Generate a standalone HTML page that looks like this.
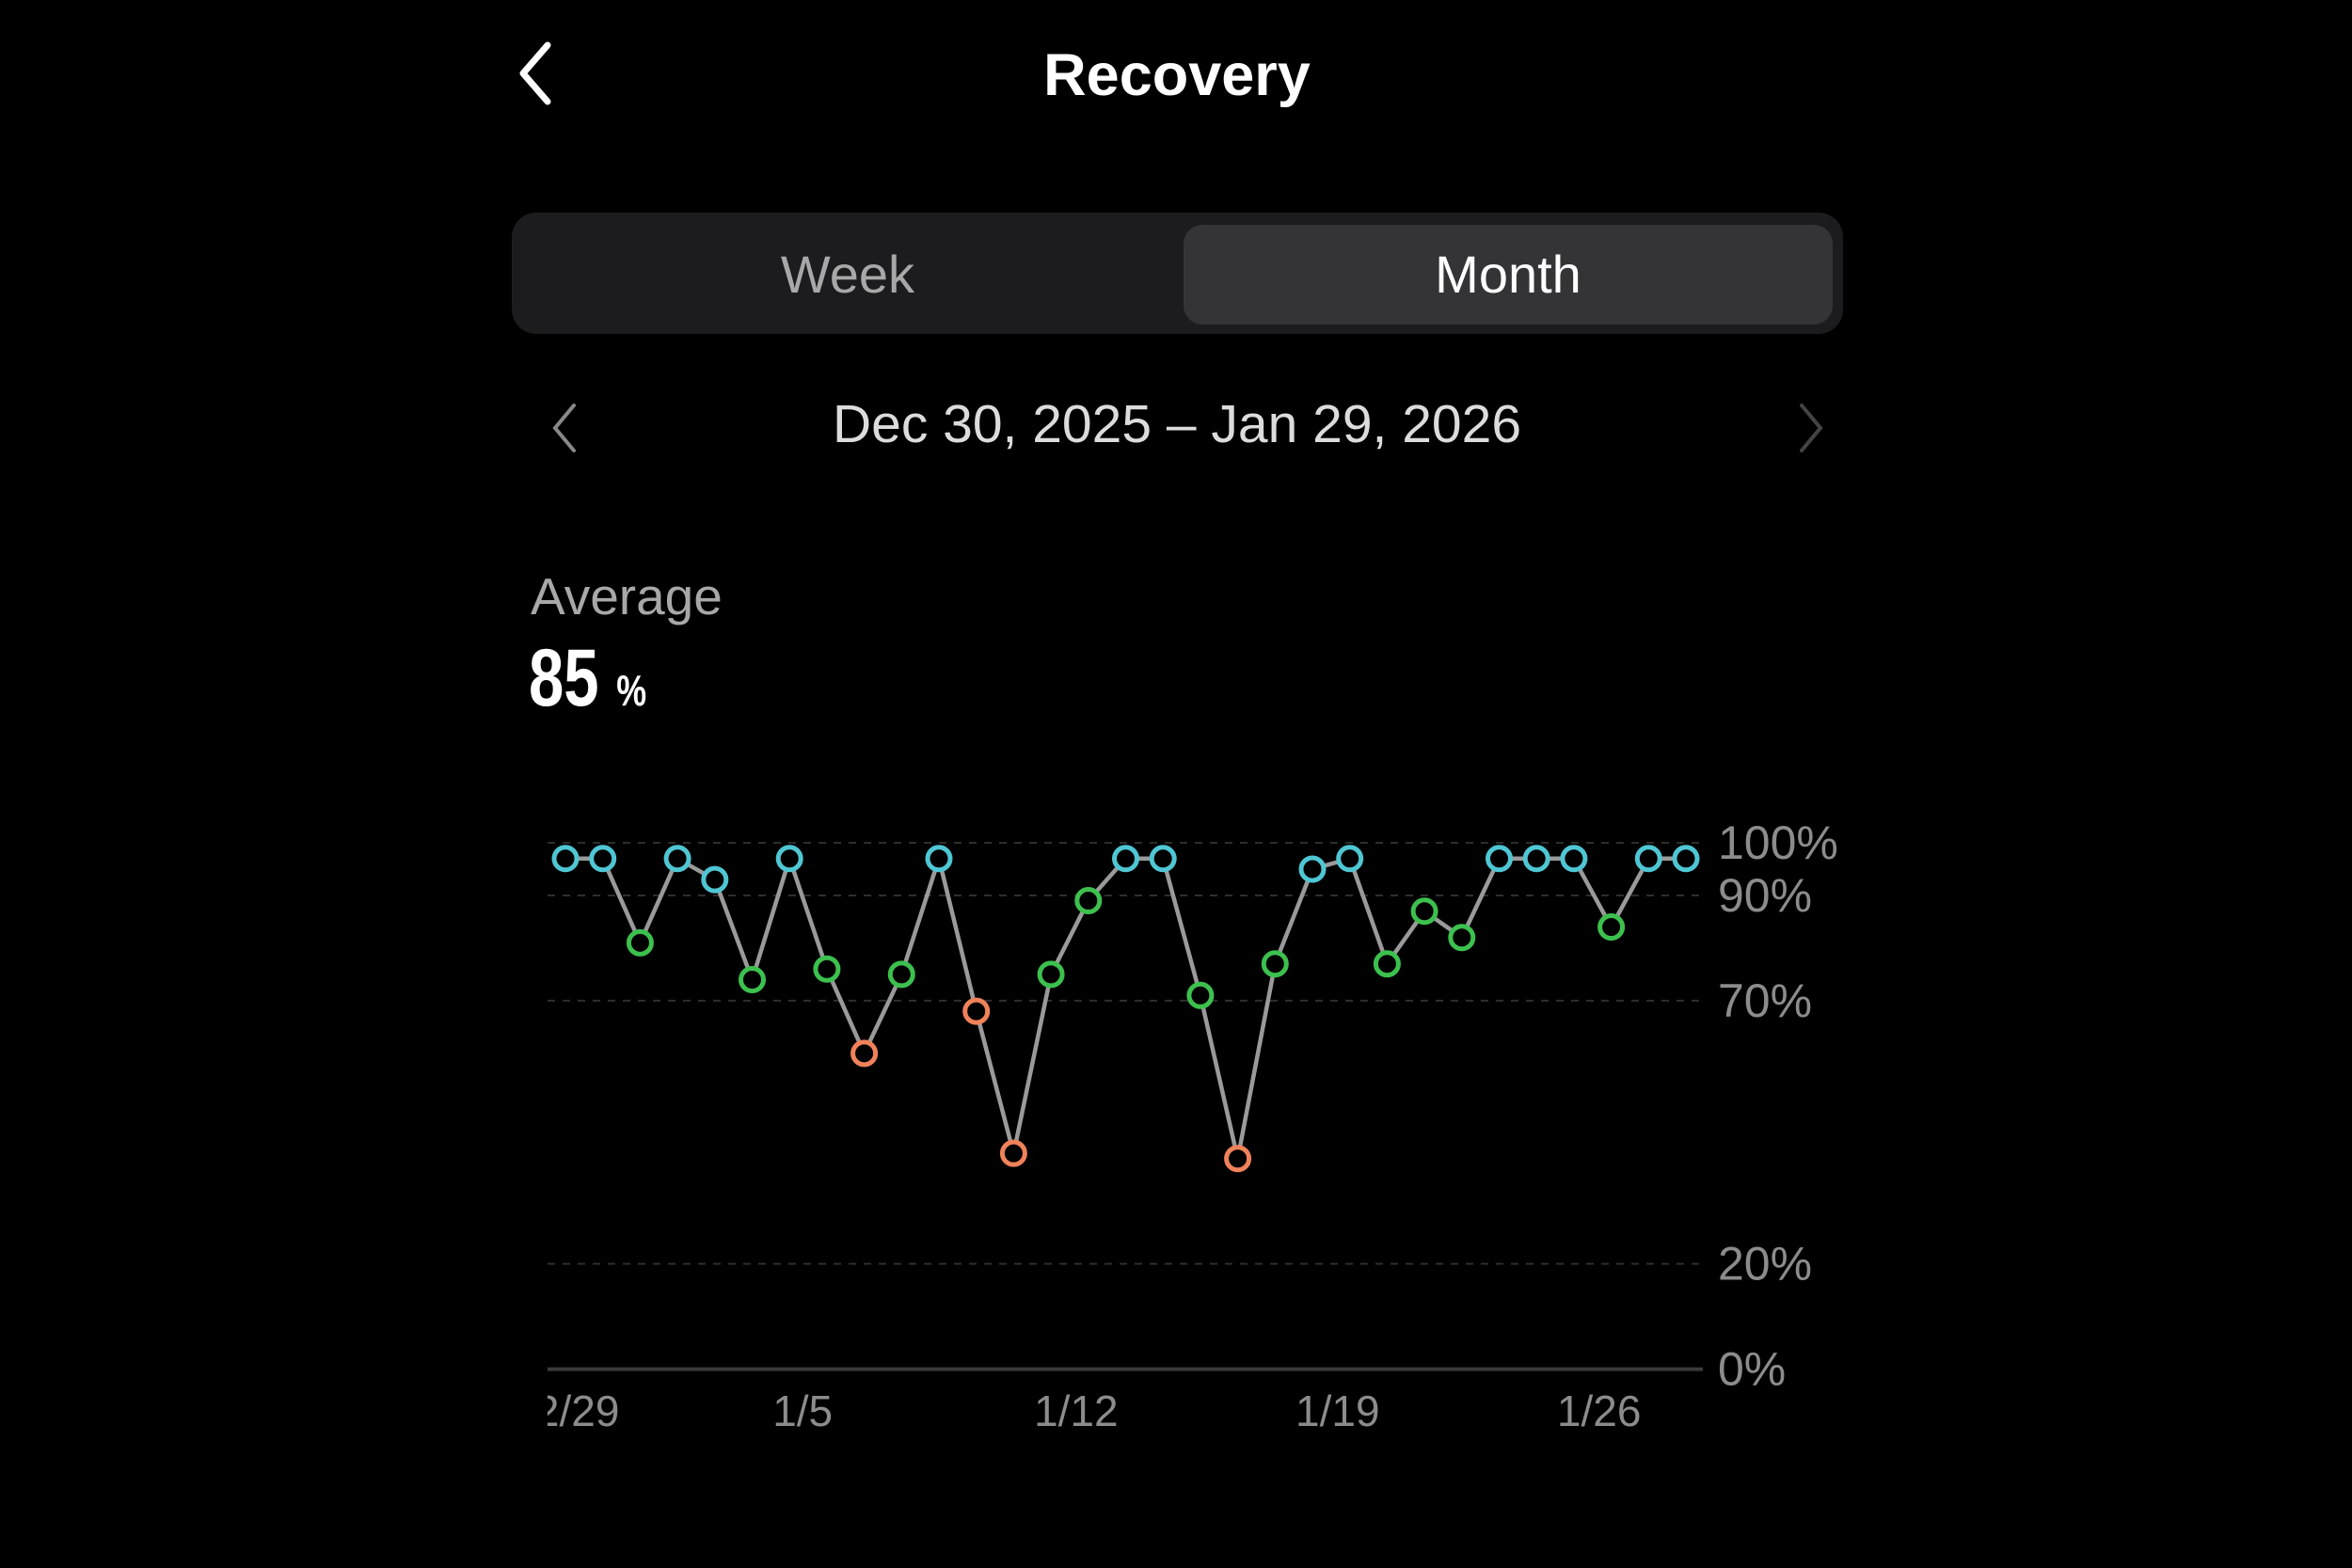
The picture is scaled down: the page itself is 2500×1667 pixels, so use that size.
<!DOCTYPE html>
<html><head><meta charset="utf-8"><style>
html,body{margin:0;padding:0;background:#000;width:2500px;height:1667px;overflow:hidden;font-family:"Liberation Sans","DejaVu Sans",sans-serif;}
.abs{position:absolute;}
</style></head><body>
<div class="abs" style="left:540px;top:40px;width:60px;height:80px;">
<svg width="60" height="80"><polyline points="42,8 16,38 42,68" fill="none" stroke="#fff" stroke-width="7" stroke-linecap="round" stroke-linejoin="round"/></svg></div>
<div class="abs" style="left:0;width:2502px;top:44px;text-align:center;color:#fff;font-weight:bold;font-size:63px;">Recovery</div>
<div class="abs" style="left:544px;top:226px;width:1415px;height:129px;background:#1c1c1e;border-radius:26px;"></div>
<div class="abs" style="left:556px;top:239px;width:690px;height:106px;line-height:106px;text-align:center;color:#a8a8a8;font-size:56px;">Week</div>
<div class="abs" style="left:1258px;top:239px;width:690px;height:106px;line-height:106px;text-align:center;color:#fff;font-size:56px;background:#343436;border-radius:20px;">Month</div>
<div class="abs" style="left:580px;top:425px;"><svg width="40" height="60"><polyline points="30,6 10,30 30,54" fill="none" stroke="#888" stroke-width="4" stroke-linecap="round"/></svg></div>
<div class="abs" style="left:1905px;top:425px;"><svg width="40" height="60"><polyline points="10,6 30,30 10,54" fill="none" stroke="#444" stroke-width="4" stroke-linecap="round"/></svg></div>
<div class="abs" style="left:0;width:2502px;top:418px;text-align:center;color:#dcdcdc;font-size:57px;">Dec 30, 2025 – Jan 29, 2026</div>
<div class="abs" style="left:564px;top:602px;color:#a8a8a8;font-size:55px;">Average</div>
<div class="abs" style="left:562px;top:672px;color:#fff;font-size:86px;font-weight:bold;transform:scaleX(0.78);transform-origin:left;">85 <span style="font-size:46px;">%</span></div>
<svg id="chart" class="abs" style="left:0;top:0;" width="2500" height="1667"></svg>
<script>
const dayLabels=["12/29","1/5","1/12","1/19","1/26"];
const labelIndex=[-1,6,13,20,27];
const yTicks=[100,90,70,20,0];
const values=[97,97,81,97,93,74,97,76,60,75,97,68,41,75,89,97,97,71,40,77,95,97,77,87,82,97,97,97,84,97,97];
const NS="http://www.w3.org/2000/svg";
const svg=document.getElementById('chart');
function x(i){return 601+i*39.7;}
function y(v){return 1455.6-v*5.596;}
function mk(t,a){const e=document.createElementNS(NS,t);for(const k in a)e.setAttribute(k,a[k]);svg.appendChild(e);return e;}
const clip=mk('clipPath',{id:'cl'});
const cr=document.createElementNS(NS,'rect');cr.setAttribute('x',582);cr.setAttribute('y',0);cr.setAttribute('width',1300);cr.setAttribute('height',1667);clip.appendChild(cr);
yTicks.forEach(v=>{
const l=mk('line',{x1:582,x2:1810,y1:y(v),y2:y(v),stroke:v===0?'#3a3a3a':'#2e2e2e','stroke-width':v===0?4:2,'stroke-dasharray':v===0?'':'8 8'});


const t=mk('text',{x:1826,y:y(v)+17,fill:'#8c8c8c','font-size':50,'font-family':'Liberation Sans, sans-serif'});
t.textContent=v+'%';


});
dayLabels.forEach((s,k)=>{
const t=mk('text',{x:x(labelIndex[k])-18,y:1516,fill:'#8c8c8c','font-size':46,'font-family':'Liberation Sans, sans-serif','clip-path':'url(#cl)'});
t.textContent=s;


});
const pl=mk('polyline',{points:values.map((v,i)=>x(i)+','+y(v)).join(' '),fill:'none',stroke:'#9a9a9a','stroke-width':4.5,'stroke-linejoin':'round'});


values.forEach((v,i)=>{
const c=v>=90?'#4fc6d3':(v>=70?'#3cc04e':'#f0825a');
const p=mk('circle',{cx:x(i),cy:y(v),r:12,fill:'#000',stroke:c,'stroke-width':5});


});
</script>
</body></html>
